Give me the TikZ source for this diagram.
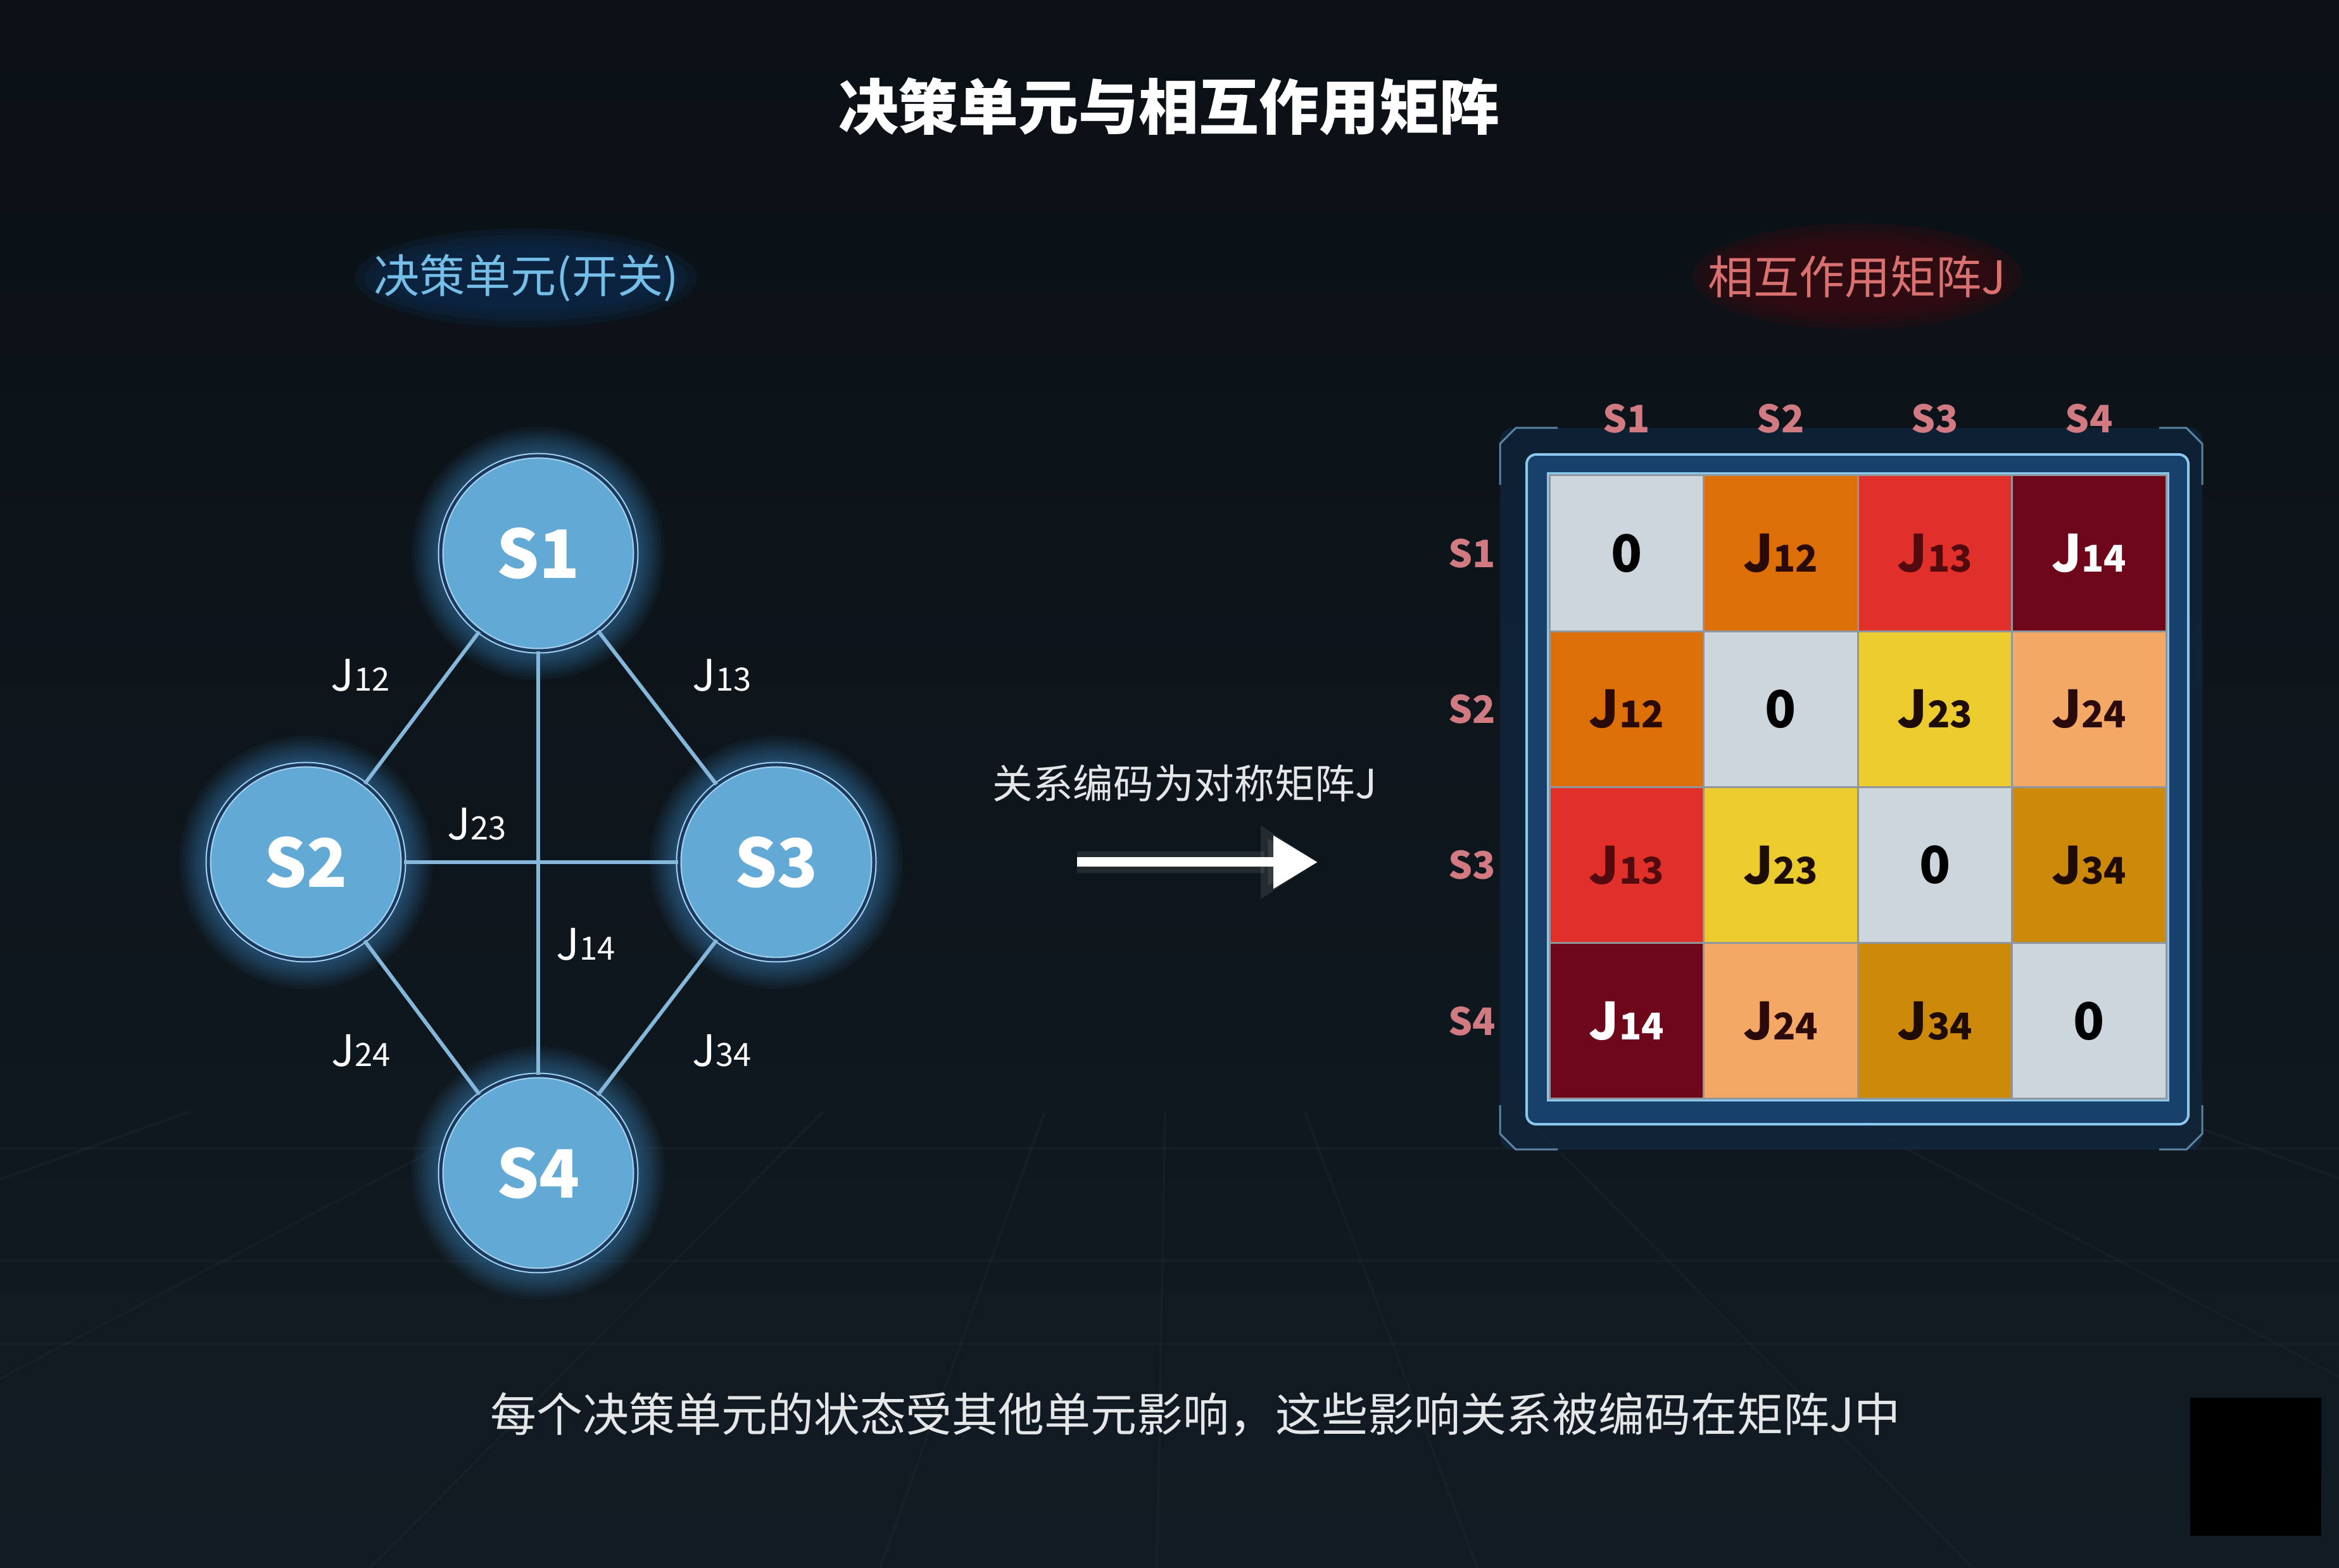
\documentclass[tikz,border=0pt]{standalone}
\usepackage{fontspec}
\setmainfont{Noto Sans CJK SC}
\usetikzlibrary{arrows.meta,shapes.geometric,positioning}

\definecolor{bgtop}{HTML}{0A1015}
\definecolor{bgmid}{HTML}{212F3B}
\definecolor{bgbot}{HTML}{121B23}
\definecolor{nodefill}{HTML}{62A9D6}
\definecolor{ringdark}{HTML}{1B3A60}
\definecolor{ringlight}{HTML}{A9D5F0}
\definecolor{glowblue}{HTML}{3F8CC8}
\definecolor{edgeblue}{HTML}{84B7DA}
\definecolor{subblue}{HTML}{74BEE8}
\definecolor{subblueglow}{HTML}{0B2A4C}
\definecolor{subred}{HTML}{D8716F}
\definecolor{subredglow}{HTML}{3A0A10}
\definecolor{headred}{HTML}{D27A82}
\definecolor{framefill}{HTML}{17416B}
\definecolor{frameline}{HTML}{8CC8EE}
\definecolor{cellgap}{HTML}{8E969E}
\definecolor{floorline}{HTML}{8FA3B5}
\definecolor{cdiag}{HTML}{CDD5DD}
\definecolor{cJ12}{HTML}{DC6F07}
\definecolor{cJ13}{HTML}{E1302A}
\definecolor{cJ14}{HTML}{6E0719}
\definecolor{cJ23}{HTML}{EBCB2D}
\definecolor{cJ24}{HTML}{F4A866}
\definecolor{cJ34}{HTML}{CC890A}
\definecolor{tJ12}{HTML}{2A0A06}
\definecolor{tJ13}{HTML}{520A0E}
\definecolor{tJ14}{HTML}{FFFFFF}
\definecolor{tJ23}{HTML}{1E0C06}
\definecolor{tJ24}{HTML}{2A0A0A}
\definecolor{tJ34}{HTML}{1E0C04}
\definecolor{softwhite}{HTML}{E4E6E8}

\newcommand{\Jij}[2][0.74]{J\scalebox{#1}{#2}}

\begin{document}
\begin{tikzpicture}[
  unit/.style={circle, minimum size=3.08cm, fill=nodefill, draw=ringlight, line width=0.02cm,
    double=ringdark, double distance=0.05cm, text=white,
    font=\fontsize{30}{30}\selectfont\bfseries},
  coupling/.style={draw=edgeblue, line width=0.06cm},
  jlabel/.style={text=white, inner sep=0pt, font=\fontsize{19.5}{20}\selectfont},
  cell/.style={minimum width=2.435cm, minimum height=2.4625cm, draw=cellgap, line width=0.03cm,
    inner sep=0pt, font=\fontsize{23}{23}\selectfont\bfseries},
  header/.style={text=headred, inner sep=0pt, font=\fontsize{17}{17}\selectfont\bfseries},
  heading/.style={inner sep=0pt, font=\fontsize{20.5}{21}\selectfont},
  floor/.style={floorline, opacity=0.045, line width=0.04cm}
]
\useasboundingbox (0,0) rectangle (36.94,24.76);
\shade[top color=bgtop, middle color=bgmid, bottom color=bgbot] (0,0) rectangle (36.94,24.76);
\foreach \y in {6.62,4.84,3.53}
	\draw[floor] (0,\y) -- (36.94,\y);
\foreach \x in {3,8,13,16.5,18.4,20.6,24,29,34}
	\draw[floor] (\x,7.2) -- ({18.5+(\x-18.5)*2.3},0);

\node[text=white, font=\fontsize{27}{27}\selectfont\bfseries] (title) at (18.46,23.08) {决策单元与相互作用矩阵};

\coordinate (left pos) at (8.31,20.37);
\coordinate (right pos) at (29.33,20.39);
\foreach \a/\b in {2.7/0.78,2.55/0.68,2.4/0.58,2.25/0.5}
	\fill[subblueglow, opacity=0.3] (left pos) ellipse (\a cm and \b cm);
\foreach \a/\b in {2.6/0.84,2.45/0.74,2.3/0.64,2.15/0.56}
	\fill[subredglow, opacity=0.3] (right pos) ellipse (\a cm and \b cm);
\node[heading, text=subblue] (left head) at (left pos) {决策单元(开关)};
\node[heading, text=subred] (right head) at (right pos) {相互作用矩阵J};

\coordinate (p1) at (8.50,16.02);
\coordinate (p2) at (4.83,11.14);
\coordinate (p3) at (12.26,11.14);
\coordinate (p4) at (8.50,6.23);
\foreach \p in {p1,p2,p3,p4}
	\foreach \rr in {1.62,1.66,1.70,1.74,1.78,1.82,1.86,1.90,1.95,2.0}
		\fill[glowblue, opacity=0.06] (\p) circle (\rr);

\node[unit] (s1) at (p1) {S1};
\node[unit] (s2) at (p2) {S2};
\node[unit] (s3) at (p3) {S3};
\node[unit] (s4) at (p4) {S4};

\draw[coupling] (s1) -- (s2);
\draw[coupling] (s1) -- (s3);
\draw[coupling] (s2) -- (s4);
\draw[coupling] (s3) -- (s4);
\draw[coupling] (s2) -- (s3);
\draw[coupling] (s1) -- (s4);

\node[jlabel] (l12) at (5.69,14.09) {\Jij{12}};
\node[jlabel] (l13) at (11.40,14.09) {\Jij{13}};
\node[jlabel] (l23) at (7.53,11.74) {\Jij{23}};
\node[jlabel] (l14) at (9.25,9.84) {\Jij{14}};
\node[jlabel] (l24) at (5.70,8.16) {\Jij{24}};
\node[jlabel] (l34) at (11.40,8.16) {\Jij{34}};

\node[text=softwhite, font=\fontsize{18.1}{18.1}\selectfont] (encode) at (18.71,12.39) {关系编码为对称矩阵J};
\coordinate (arrow tail) at (17.01,11.14);
\coordinate (arrow tip) at (20.81,11.14);
\draw[gray, opacity=0.2, line width=0.34cm, -{Triangle[length=0.9cm, width=1.1cm]}] (arrow tail) -- (arrow tip);
\draw[white, line width=0.15cm, -{Triangle[length=0.7cm, width=0.8cm]}] (arrow tail) -- (arrow tip);

\fill[framefill!70!black, opacity=0.55, rounded corners=0.2cm] (23.69,6.60) rectangle (34.78,18.00);
\draw[frameline, opacity=0.6, line width=0.03cm] (23.69,17.10) -- (23.69,17.75) -- (23.94,18.00) -- (24.60,18.00);
\draw[frameline, opacity=0.6, line width=0.03cm] (34.10,18.00) -- (34.53,18.00) -- (34.78,17.75) -- (34.78,17.10);
\draw[frameline, opacity=0.6, line width=0.03cm] (23.69,7.30) -- (23.69,6.85) -- (23.94,6.60) -- (24.60,6.60);
\draw[frameline, opacity=0.6, line width=0.03cm] (34.10,6.60) -- (34.53,6.60) -- (34.78,6.85) -- (34.78,7.30);
\draw[frameline, line width=0.04cm, fill=framefill, rounded corners=0.15cm] (24.11,7.00) rectangle (34.56,17.58);
\draw[frameline, line width=0.03cm, fill=cellgap] (24.44,7.37) rectangle (34.24,17.28);

\foreach \r in {1,...,4}
	\foreach \c in {1,...,4}{
		\pgfmathsetmacro\cx{24.47+(\c-0.5)*2.435}
		\pgfmathsetmacro\cy{17.25-(\r-0.5)*2.4625}
		\pgfmathtruncatemacro\lo{min(\r,\c)}
		\pgfmathtruncatemacro\hi{max(\r,\c)}
		\ifnum\r=\c
			\node[cell, fill=cdiag, text=black] (c\r\c) at (\cx,\cy) {0};
		\else
			\node[cell, fill=cJ\lo\hi, text=tJ\lo\hi] (c\r\c) at (\cx,\cy) {\Jij[0.72]{\lo\hi}};
		\fi
	}

\foreach \i in {1,...,4}{
	\pgfmathsetmacro\cx{24.47+(\i-0.5)*2.435}
	\pgfmathsetmacro\cy{17.25-(\i-0.5)*2.4625}
	\node[header] (col\i) at (\cx,18.15) {S\i};
	\node[header] (row\i) at (23.25,\cy) {S\i};
}

\node[text=softwhite, font=\fontsize{20.75}{20.75}\selectfont] (caption) at (18.88,2.41) {每个决策单元的状态受其他单元影响，这些影响关系被编码在矩阵J中};

\fill[black] (34.59,0.50) rectangle (36.66,2.68);
\end{tikzpicture}
\end{document}
